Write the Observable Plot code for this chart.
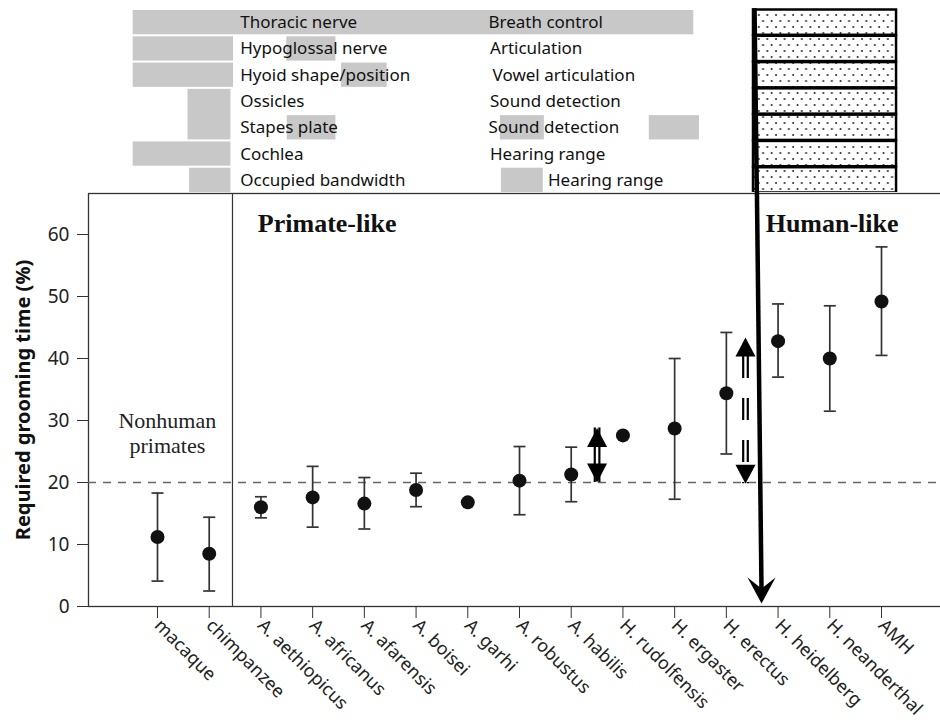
<!DOCTYPE html>
<html><head><meta charset="utf-8">
<script src="https://cdn.jsdelivr.net/npm/d3@7"></script>
<script src="https://cdn.jsdelivr.net/npm/@observablehq/plot@0.6"></script>
<style>
body{margin:0;background:#fff;}
#chart svg{display:block;}
</style></head><body><div id="chart"></div>
<script>
// ---- species and required grooming time (%) ----
const species = ["macaque","chimpanzee","A. aethiopicus","A. africanus","A. afarensis","A. boisei","A. garhi","A. robustus","A. habilis","H. rudolfensis","H. ergaster","H. erectus","H. heidelberg","H. neanderthal","AMH"];
const meanTime = [11.2, 8.5, 16.0, 17.6, 16.6, 18.8, 16.8, 20.3, 21.3, 27.6, 28.7, 34.4, 42.8, 40.0, 49.2];
const lowTime  = [4.1, 2.5, 14.3, 12.8, 12.5, 16.1, null, 14.8, 16.9, null, 17.3, 24.6, 37.0, 31.5, 40.5];
const highTime = [18.3, 14.4, 17.7, 22.6, 20.8, 21.5, null, 25.8, 25.7, null, 40.0, 44.2, 48.8, 48.5, 58.0];
const threshold = 20;
const yTicks = [0, 10, 20, 30, 40, 50, 60];
const yLabel = "Required grooming time (%)";

// ---- anatomical evidence panel ----
const features  = ["Thoracic nerve","Hypoglossal nerve","Hyoid shape/position","Ossicles","Stapes plate","Cochlea","Occupied bandwidth"];
const functionsText = ["Breath control","Articulation","Vowel articulation","Sound detection","Sound detection","Hearing range","Hearing range"];
const functionsAt = [6.40, 6.43, 6.48, 6.43, 6.40, 6.43, 7.55];
const featuresAt = 1.6;
// grey evidence spans (row, number of rows, species-index from, to)
const spanRow  = [0, 1, 1, 2, 2, 3, 4, 4, 4, 5, 6, 6];
const spanRows = [1, 1, 1, 1, 1, 2, 1, 1, 1, 1, 1, 1];
const spanFrom = [-0.47, -0.47, 2.50, -0.47, 3.56, 0.59, 2.51, 6.63, 9.51, -0.47, 0.62, 6.65];
const spanTo   = [10.37, 1.47, 3.45, 1.47, 4.44, 1.42, 3.45, 7.48, 10.48, 1.42, 1.42, 7.46];
const humanBoxFrom = 11.525, humanBoxTo = 14.291;

// ---- annotations ----
const dividerAt = 1.45;
const groupLabels = [
  {text: "Primate-like", x: 1.94, y: 60.37},
  {text: "Human-like", x: 11.76, y: 60.37}
];
const nonhumanLabel = {text: "Nonhuman\nprimates", x: 0.19, y: 28.0};
const doubleArrows = [
  {x: 8.5, lo: 20.0, hi: 28.8, dashed: false},
  {x: 11.37, lo: 19.8, hi: 43.4, dashed: true}
];
const bigArrow = {xTop: 11.545, xJoin: 11.59, xBottom: 11.68, yBottom: 0.48};

// ---------------------------------------------------------------
const rows = species.map((s, i) => ({i, name: s, mean: meanTime[i], lo: lowTime[i], hi: highTime[i]}));
const withErr = rows.filter(d => d.lo != null);
const spans = spanRow.map((r, k) => ({row: r, rows: spanRows[k], from: spanFrom[k], to: spanTo[k]}));
const solidArrows = doubleArrows.filter(d => !d.dashed);
const dashedArrows = doubleArrows.filter(d => d.dashed);

const capSymbol = {draw(ctx) { ctx.moveTo(-6, 0); ctx.lineTo(6, 0); }};
const upHead = {draw(ctx) { ctx.moveTo(0, 0); ctx.lineTo(10, 19); ctx.lineTo(-10, 19); ctx.closePath(); }};
const downHead = {draw(ctx) { ctx.moveTo(0, 0); ctx.lineTo(10, -19); ctx.lineTo(-10, -19); ctx.closePath(); }};
const stealthHead = {draw(ctx) { ctx.moveTo(0, 0); ctx.lineTo(-14, -26); ctx.lineTo(0, -15); ctx.lineTo(14, -26); ctx.closePath(); }};

const sans = "'Noto Sans', 'Open Sans', sans-serif";
const serif = "'Liberation Serif', 'Times New Roman', serif";

const topPanel = Plot.plot({
  width: 940, height: 192, margin: 0,
  x: {domain: [0, 14], range: [157, 881], axis: null},
  y: {domain: [0, 7], range: [9, 193], axis: null},
  style: {fontFamily: sans, background: "#fff"},
  marks: [
    Plot.rect(spans, {x1: "from", x2: "to", y1: "row", y2: d => d.row + d.rows, fill: "#c8c8c8", insetTop: 1, insetBottom: 1}),
    Plot.rect(d3.range(7), {x1: humanBoxFrom, x2: humanBoxTo, y1: d => d, y2: d => d + 1, fill: "url(#dots)", stroke: "#000", strokeWidth: 2.5, insetTop: 0.5, insetBottom: 0.5}),
    Plot.text(features, {x: featuresAt, y: (d, i) => i + 0.5, text: d => d, textAnchor: "start", fontSize: 17, fill: "#111"}),
    Plot.text(functionsText, {x: (d, i) => functionsAt[i], y: (d, i) => i + 0.5, text: d => d, textAnchor: "start", fontSize: 17, fill: "#111"}),
    Plot.link([bigArrow], {x1: "xTop", y1: () => -0.05, x2: "xJoin", y2: () => 7.1, stroke: "#000", strokeWidth: 4.5})
  ]
});

// dotted pattern
const defs = d3.select(topPanel).insert("defs", ":first-child");
const pat = defs.append("pattern").attr("id", "dots").attr("patternUnits", "userSpaceOnUse")
  .attr("width", 8.6).attr("height", 12);
pat.append("rect").attr("width", 8.6).attr("height", 12).attr("fill", "#fff");
pat.append("circle").attr("cx", 2).attr("cy", 3).attr("r", 1).attr("fill", "#222");
pat.append("circle").attr("cx", 6.3).attr("cy", 9).attr("r", 1).attr("fill", "#222");

const shaftOpts = {x: "x", y1: "hi", y2: "lo", stroke: "#000", strokeWidth: 2.2};

const main = Plot.plot({
  width: 940, height: 531,
  marginLeft: 88, marginRight: -3, marginTop: 1, marginBottom: 117,
  x: {domain: [0, 14], range: [157, 881]},
  y: {domain: [0, 60], range: [414, 42]},
  style: {fontFamily: sans, color: "#222", background: "#fff"},
  marks: [
    Plot.frame({stroke: "#333", strokeWidth: 1.3}),
    Plot.ruleX([dividerAt], {stroke: "#333", strokeWidth: 1.2}),
    Plot.ruleY([threshold], {stroke: "#666", strokeWidth: 1.3, strokeDasharray: "8,7"}),
    Plot.axisY({ticks: yTicks, tickSize: 11, tickPadding: 8, fontSize: 19, label: null, stroke: "#333"}),
    Plot.axisX({ticks: d3.range(species.length), tickFormat: i => species[i], tickRotate: 45, tickSize: 12, tickPadding: 4, fontSize: 18, label: null, stroke: "#333"}),
    Plot.text([yLabel], {frameAnchor: "left", dx: -65, rotate: -90, textAnchor: "middle", fontSize: 20, fontWeight: "bold", fill: "#111"}),
    Plot.text(groupLabels, {x: "x", y: "y", text: "text", textAnchor: "start", lineAnchor: "bottom", fontFamily: serif, fontWeight: "bold", fontSize: 26, fill: "#111"}),
    Plot.text([nonhumanLabel], {x: "x", y: "y", text: "text", lineAnchor: "middle", lineHeight: 1.12, fontFamily: serif, fontSize: 22, fill: "#222"}),
    // error bars
    Plot.ruleX(withErr, {x: "i", y1: "lo", y2: "hi", stroke: "#333", strokeWidth: 1.7}),
    Plot.dot(withErr, {x: "i", y: "lo", symbol: capSymbol, fill: "none", stroke: "#333", strokeWidth: 1.7}),
    Plot.dot(withErr, {x: "i", y: "hi", symbol: capSymbol, fill: "none", stroke: "#333", strokeWidth: 1.7}),
    Plot.dot(rows, {x: "i", y: "mean", r: 7, fill: "#111", stroke: "none"}),
    // double-headed arrows (double-line shafts)
    Plot.ruleX(solidArrows, {...shaftOpts, dx: -2.3}),
    Plot.ruleX(solidArrows, {...shaftOpts, dx: 2.3}),
    Plot.ruleX(dashedArrows, {...shaftOpts, dx: -2.3, strokeDasharray: "22,20", strokeDashoffset: 23}),
    Plot.ruleX(dashedArrows, {...shaftOpts, dx: 2.3, strokeDasharray: "22,20", strokeDashoffset: 23}),
    Plot.dot(doubleArrows, {x: "x", y: "hi", symbol: upHead, fill: "#000", stroke: "none"}),
    Plot.dot(doubleArrows, {x: "x", y: "lo", symbol: downHead, fill: "#000", stroke: "none"}),
    // the big arrow
    Plot.link([bigArrow], {x1: "xJoin", y1: () => 67.5, x2: "xBottom", y2: d => d.yBottom + 2, stroke: "#000", strokeWidth: 4.5}),
    Plot.dot([bigArrow], {x: "xBottom", y: "yBottom", symbol: stealthHead, fill: "#000", stroke: "none"})
  ]
});

const chart = document.getElementById("chart");
chart.append(topPanel, main);
</script>
</body></html>
